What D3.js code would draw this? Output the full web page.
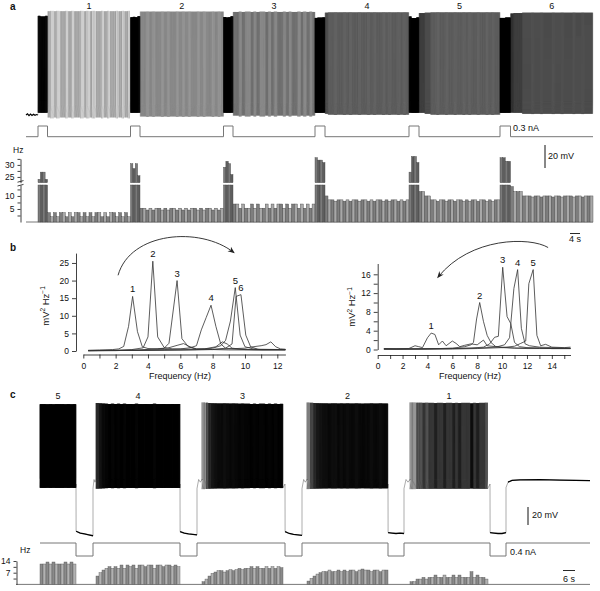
<!DOCTYPE html>
<html><head><meta charset="utf-8">
<script src="https://cdnjs.cloudflare.com/ajax/libs/d3/7.8.5/d3.min.js"></script>
<style>
body{margin:0;background:#fff;}
svg{display:block;font-family:"Liberation Sans",Arial,Helvetica,sans-serif;}
</style></head><body>
<svg id="chart" width="600" height="591"></svg>
<script>
// ======================= DATA =======================
// ---- Panel a : current pulses (s), instantaneous firing frequency bins (Hz)
const aPulses = [[4.8,8.6],[41.8,45.6],[79.0,82.8],[115.6,119.6],[153.2,157.2],[189.6,193.8]];
const aEndTime = 226.8;
const aPulseAmp = 0.3;               // nA
const aLabels = ["1","2","3","4","5","6"];
const aPulseHz = [
  [24,27,27,24],
  [30.5,28.5,30.5,25.5],
  [29,31.5,30.5,26],
  [33,32,32,31],
  [27,33.5,33.5,31],
  [33,33,31.5,31.5]
];
const aBurst1 = [3.6,2.0,3.6,2.0,3.6,3.6,2.0,3.6,2.0,3.6,3.6,2.0,3.6,2.0,3.6,2.0,3.6,3.6,2.0,3.6,2.0,3.6,3.6,2.0,3.6,2.0,3.6,2.0];
const aBurst2 = [5.3,5.3,4.6,5.3,4.6,5.3,5.3,4.6,5.3,4.6,5.3,5.3,4.6,5.3,4.6,5.3,4.6,5.3,5.3,4.6,5.3,4.6,5.3,5.3,4.6,5.3,4.6,5.3];
const aBurst3 = [6.9,6.9,5.3,6.9,5.3,5.3,6.9,5.3,6.9,5.3,5.3,6.9,5.3,6.9,5.3,6.9,6.9,5.3,6.9,5.3,6.9,6.9,5.3,6.9,5.3,6.9,5.3,6.9];
const aBurst4 = [10,8.5,8.5,8.0,8.5,8.5,8.0,8.5,8.0,8.5,8.5,8.0,8.5,8.5,8.0,8.5,8.0,8.5,8.5,8.0,8.5,8.0,8.5,8.5,8.0,8.5,8.0,8.5];
const aBurst5 = [11.7,11.7,10,10,8.5,8.5,8.0,8.5,8.5,8.0,8.5,8.5,8.0,8.5,8.5,8.0,8.5,8.0,8.5,8.5,8.0,8.5,8.5,8.0,8.5,8.0,8.5,8.5];
const aBurst6 = [13.6,11.7,11.7,11.7,10,10,10,9.6,10,10,9.6,10,10,10,9.6,10,10,9.6,10,10,10,9.6,10,10,9.6,10,10,10];
const aBurstHz = [aBurst1,aBurst2,aBurst3,aBurst4,aBurst5,aBurst6];
const aPreTrace = [[0,-60],[0.6,-59],[1.2,-60.6],[1.8,-59.2],[2.4,-60.4],[3.0,-59.4],[3.6,-60.3],[4.2,-59.6],[4.8,-60]];

// ---- Panel b : power spectra [frequency Hz, mV^2 Hz^-1]
const bL1 = [[0.3,0.2],[1.0,0.3],[1.8,0.4],[2.2,0.6],[2.5,1.3],[2.8,7],[3.05,15.5],[3.35,5.5],[3.65,1.2],[4.0,0.7],[4.6,0.6],[5.2,0.8],[5.8,1.6],[6.2,2.1],[6.6,1.2],[7.0,0.6],[8,0.4],[9,0.3],[10,0.3],[11,0.3],[12.5,0.3]];
const bL2 = [[0.3,0.1],[2,0.2],[3,0.4],[3.7,0.9],[4.0,4],[4.3,25.5],[4.6,4],[5.0,1.0],[5.5,0.6],[6.5,0.5],[7.5,0.6],[8.2,1.2],[8.6,2.6],[8.9,2],[9.2,0.8],[10,0.4],[11,0.3],[12.5,0.3]];
const bL3 = [[0.3,0.1],[2,0.1],[3.5,0.3],[4.5,0.6],[5.0,0.8],[5.3,2.2],[5.8,20],[6.1,3.5],[6.5,1.2],[7,0.5],[8,0.5],[9,0.6],[10,0.8],[10.5,1.2],[11.0,1.5],[11.3,1.8],[11.6,2.6],[11.9,1.2],[12.2,0.6],[12.5,0.5]];
const bL4 = [[0.3,0.1],[3,0.2],[5,0.4],[6,0.6],[6.6,0.9],[7.0,1.5],[7.3,6],[7.6,9.5],[7.9,13],[8.2,7],[8.5,2],[8.8,0.8],[9.5,0.5],[10.5,0.4],[12.5,0.4]];
const bL5 = [[0.3,0.1],[4,0.2],[6,0.3],[7,0.4],[8,0.8],[8.5,1.5],[8.8,3],[9.1,8.5],[9.4,18],[9.7,4.5],[10.0,1.2],[10.5,0.6],[11,0.4],[12.5,0.4]];
const bL6 = [[0.3,0.1],[5,0.2],[7,0.3],[8,0.4],[8.8,0.8],[9.2,2],[9.45,15.5],[9.75,16],[10.05,4.5],[10.35,1.2],[10.8,0.5],[12.5,0.4]];
const bLeftSpectra = [bL1,bL2,bL3,bL4,bL5,bL6];
const bLeftLabels = ["1","2","3","4","5","6"];
const bR1 = [[0.5,0.2],[1.5,0.1],[2.5,0.2],[3.0,0.8],[3.3,0.6],[3.6,0.4],[4.0,2.5],[4.3,3.5],[4.6,3.2],[4.9,1],[5.2,1.8],[5.5,0.8],[6.0,1.8],[6.3,1.3],[6.6,0.6],[7.0,0.9],[7.5,1.2],[8.0,1.0],[8.5,2],[8.8,0.8],[9.5,0.6],[10,0.5],[11,0.3],[12,0.3],[13,0.3],[14,0.2],[15.5,0.2]];
const bR2 = [[0.5,0.1],[3,0.1],[5,0.2],[6,0.3],[7,0.6],[7.5,1.0],[7.7,1.5],[7.95,6.5],[8.2,10],[8.5,6],[8.8,3],[9.1,1.5],[9.5,0.6],[10,0.4],[11,0.3],[12,0.2],[13,0.2],[14,0.2],[15.5,0.2]];
const bR3 = [[0.5,0.1],[4,0.1],[6,0.2],[7.5,0.3],[8.5,0.5],[9.0,1.2],[9.4,2.6],[9.7,2.8],[10.05,17.5],[10.4,7],[10.7,5.5],[11.0,1.5],[11.4,0.6],[12,0.4],[13,0.3],[14,0.2],[15.5,0.2]];
const bR4 = [[0.5,0.1],[6,0.2],[8,0.3],[9.5,0.5],[10.2,1],[10.6,2.5],[10.95,13],[11.25,17],[11.55,4.5],[11.85,1.2],[12.2,0.8],[13,0.5],[14,0.4],[15.5,0.3]];
const bR5 = [[0.5,0.1],[6,0.1],[8,0.2],[10,0.4],[11,0.7],[11.5,1.3],[11.9,1.8],[12.15,14],[12.5,17],[12.8,3],[13.1,0.8],[13.5,1.1],[14,0.5],[15,0.4],[15.5,0.5]];
const bRightSpectra = [bR1,bR2,bR3,bR4,bR5];
const bRightLabels = ["1","2","3","4","5"];
const bLeftArrow  = [[2.15,21.5],[2.9,33.8],[7.2,35.5],[9.3,28.0]];   // bezier in data units
const bRightArrow = [[13.7,21.7],[12.25,24.0],[7.45,24.0],[4.85,15.4]];

// ---- Panel c : hyperpolarising steps (s), firing-frequency bins (Hz, 1.5 s)
const cSteps = [[18,26.5],[70,78.5],[122.5,131],[174,182],[225,233]];
const cEndTime = 275;
const cStepAmp = -0.4;               // nA
const cLabels = ["5","4","3","2","1"];
const cBurstStart = [0,28,81,133.5,185];
const cBinW = 1.5;
const cBurst5 = [12.2,12.2,13.4,12.2,13.4,12.2,12.2,12.2,13.4,12.2,13.4,12.2];
const cBurst4 = [5,7,8.6,9.6,10.6,9.6,10.6,9.6,11.6,9.6,11.6,10.6,11.6,9.6,11.6,11.6,10.6,11.6,11.6,9.6,11.6,11.6,10.6,11.6,11.6,10.6,11.6,10.6];
const cBurst3 = [1.6,3.2,5,6.6,7.4,8.2,8.2,7.4,8.2,8.8,8.2,8.8,9.6,8.8,9.6,9.6,10.6,9.6,10.6,9.6,9.6,10.6,9.6,10.6,9.6,10.6,10];
const cBurst2 = [2,3.6,5,6.2,7,7.6,7.6,8.6,7.6,7.6,8.6,7.6,8.6,7.6,8.6,8.6,7.6,8.6,9.2,8.6,8.6,7.6,8.6,8.6,7.6,8.6,8.6];
const cBurst1 = [1.6,1.6,3.2,3.2,4.2,3.2,4.2,4.2,5.6,4.2,4.2,5.6,4.2,4.2,5.6,4.2,5.6,4.2,4.2,4.2,7.6,4.2,5.6,4.2,4.2,3.2];
const cBurstHz = [cBurst5,cBurst4,cBurst3,cBurst2,cBurst1];
const cHyperV = [
  [-112.5,-114.5,-115.5,-116.5,-117.5],
  [-113,-114.5,-115.5,-116,-116.5],
  [-113,-115,-116,-116.5,-117],
  [-114,-114.5,-115,-114.5,-115],
  [-114,-114.5,-115,-115,-114]
];
const cOnsetV = [-65,-55,-58,-55];
const cRestTrace = [[233,-64],[234,-58],[236,-56],[240,-55.4],[250,-55.2],[260,-55.6],[275,-56.2]];

// ======================= SCALES =======================
const svg = d3.select("#chart");
const xA = d3.scaleLinear().domain([0,aEndTime]).range([26,593]);
const yA = d3.scaleLinear().domain([-60,30]).range([115,11.5]);
const iA = d3.scaleLinear().domain([0,aPulseAmp]).range([136.7,126]);
const hLowA = d3.scaleLinear().domain([0,14.2]).range([222,185]);
const hHighA = d3.scaleLinear().domain([22.6,32.5]).range([182.7,158.9]);

const xB1 = d3.scaleLinear().domain([0,12.5]).range([83.3,285.4]);
const yB1 = d3.scaleLinear().domain([0,27.8]).range([351,253.1]);
const xB2 = d3.scaleLinear().domain([0,15.5]).range([377.7,570.5]);
const yB2 = d3.scaleLinear().domain([0,18.3]).range([349.5,263.5]);

const xC = d3.scaleLinear().domain([0,cEndTime]).range([40,590]);
const yC = d3.scaleLinear().domain([-60,30]).range([484,403]);
const iC = d3.scaleLinear().domain([cStepAmp,0]).range([556,543]);
const hC = d3.scaleLinear().domain([0,14]).range([584.4,561]);

const FS = 9;

// ======================= HELPERS =======================
function spikeTrain(start, end, bins, offset){
  const binW = (end-start)/bins.length, out=[];
  let t = start + offset/bins[0];
  while (t < end - 1e-9){
    const i = Math.min(bins.length-1, Math.max(0, Math.floor((t-start)/binW)));
    const f = bins[i];
    out.push({t, f});
    t += 1/f;
  }
  return out;
}
function binList(start, end, bins){
  const w = (end-start)/bins.length;
  return bins.map((f,i)=>({t0:start+i*w, t1:start+(i+1)*w, f, i}));
}
function label(x,y,txt,opt={}){
  return svg.append("text").attr("x",x).attr("y",y)
    .attr("font-size",opt.fs||FS).attr("text-anchor",opt.anchor||"middle")
    .attr("font-weight",opt.bold?"bold":null).attr("fill","#111").text(txt);
}
function styleAxis(g){
  g.attr("font-family",null).attr("font-size",null);
  g.selectAll("path.domain").attr("stroke","#111").attr("stroke-width",0.8);
  g.selectAll(".tick line").attr("stroke","#111").attr("stroke-width",0.8);
  g.selectAll(".tick text").attr("font-size",8.5).attr("fill","#111");
}

// ======================= PANEL a =======================
label(10,10,"a",{bold:true,fs:10,anchor:"start"});
const aSpikePts = [];
const aBins = [], aSegments=[];
aPulses.forEach((p,k)=>{
  aSegments.push({start:p[0], end:p[1], bins:aPulseHz[k], pulse:true, k});
  const bEnd = k < aPulses.length-1 ? aPulses[k+1][0] : aEndTime;
  aSegments.push({start:p[1], end:bEnd, bins:aBurstHz[k], pulse:false, k});
});
aSegments.forEach(s=>{
  spikeTrain(s.start, s.end, s.bins, s.pulse?0.05:0.5).forEach(sp=>{
    const trough = -64 + 0.5*Math.min(sp.f,12);
    const peak = 31 - 0.2*sp.f;
    aSpikePts.push([sp.t, trough+11],[sp.t+0.004, peak],[sp.t+0.012, trough]);
  });
  binList(s.start, s.end, s.bins).forEach(b=>{ b.pulse=s.pulse; aBins.push(b); });
});
const lineA = d3.line().x(d=>xA(d[0])).y(d=>yA(d[1]));
svg.append("path").attr("d", lineA([aPreTrace[aPreTrace.length-1], ...aSpikePts]))
  .attr("fill","none").attr("stroke","#000").attr("stroke-width",0.145).attr("stroke-linejoin","bevel");
svg.append("path").attr("d", lineA(aPreTrace)).attr("fill","none").attr("stroke","#000").attr("stroke-width",1.2);

aLabels.forEach((t,k)=>{
  const s = aPulses[k][1], e = k<aPulses.length-1 ? aPulses[k+1][0] : aEndTime;
  label(xA((s+e)/2), 9, t, {fs:9});
});

// current trace
const aCur = [[0,0]];
aPulses.forEach(p=>{ aCur.push([p[0],0],[p[0],aPulseAmp],[p[1],aPulseAmp],[p[1],0]); });
aCur.push([aEndTime,0]);
svg.append("path").attr("d", d3.line().x(d=>xA(d[0])).y(d=>iA(d[1]))(aCur))
  .attr("fill","none").attr("stroke","#777").attr("stroke-width",1);
label(513,131,"0.3 nA",{anchor:"start",fs:9});

// scale bars
svg.append("line").attr("x1",545).attr("x2",545).attr("y1",145).attr("y2",145+(yA(0)-yA(20)))
  .attr("stroke","#111").attr("stroke-width",1);
label(548,159,"20 mV",{anchor:"start",fs:9});
svg.append("line").attr("x1",570).attr("x2",570+(xA(4)-xA(0))).attr("y1",233.5).attr("y2",233.5)
  .attr("stroke","#111").attr("stroke-width",0.9);
label(575,242,"4 s",{fs:9});

// histogram a
svg.append("line").attr("x1",xA(0)).attr("x2",xA(aEndTime)).attr("y1",hLowA(0)).attr("y2",hLowA(0))
  .attr("stroke","#555").attr("stroke-width",0.8);
const gHA = svg.append("g");
aBins.forEach(b=>{
  const x0 = xA(b.t0), w = xA(b.t1)-xA(b.t0);
  const fill = b.pulse ? (b.i%2? "#5e5e5e":"#7a7a7a") : (b.i%2? "#a8a8a8":"#7e7e7e");
  const parts = b.f <= 14.2 ? [[hLowA(b.f),hLowA(0)]] : [[hLowA(14.2),hLowA(0)],[hHighA(b.f),hHighA(22.6)]];
  parts.forEach(p=>{
    gHA.append("rect").attr("x",x0).attr("width",w).attr("y",p[0]).attr("height",p[1]-p[0])
      .attr("fill",fill).attr("stroke","#444").attr("stroke-width",0.4);
  });
});
const axLowA = svg.append("g").attr("transform","translate(20.5,0)")
  .call(d3.axisLeft(hLowA).tickValues([2.5,5,7.5,10,12.5]).tickFormat(d=>d%5===0?d:"").tickSize(3).tickSizeOuter(0));
styleAxis(axLowA);
const axHighA = svg.append("g").attr("transform","translate(20.5,0)")
  .call(d3.axisLeft(hHighA).tickValues([25,27.5,30,32.5]).tickFormat(d=>d%5===0?d:"").tickSize(3).tickSizeOuter(0));
styleAxis(axHighA);
svg.append("path").attr("d","M17.5,182.2 L23.5,180.6 M17.5,186 L23.5,184.4").attr("stroke","#111").attr("stroke-width",0.8).attr("fill","none");
label(13,153,"Hz",{anchor:"start",fs:8.5});

// ======================= PANEL b =======================
label(10,251,"b",{bold:true,fs:10,anchor:"start"});
function spectraPanel(xS, yS, spectra, labels, yTicks, yMinor, xMax, yAxisX, xAxisY, titleX, arrow){
  const line = d3.line().x(d=>xS(d[0])).y(d=>yS(d[1]));
  spectra.forEach((s,k)=>{
    svg.append("path").attr("d",line(s)).attr("fill","none").attr("stroke","#333")
      .attr("stroke-width",0.8).attr("stroke-linejoin","round");
    const pk = s.reduce((a,b)=> b[1]>a[1]?b:a);
    label(xS(pk[0]), yS(pk[1])-4, labels[k], {fs:9.5});
  });
  const ay = svg.append("g").attr("transform",`translate(${yAxisX},0)`)
    .call(d3.axisLeft(yS).tickValues(yMinor).tickFormat(d=> yTicks.includes(d)? d:"").tickSize(4).tickSizeOuter(0));
  styleAxis(ay);
  const xt = d3.range(0, Math.floor(xMax)+1, 1);
  const ax = svg.append("g").attr("transform",`translate(0,${xAxisY})`)
    .call(d3.axisBottom(xS).tickValues(xt).tickFormat(d=> d%2===0? d:"").tickSize(4).tickSizeOuter(0));
  styleAxis(ax);
  ax.selectAll(".tick text").attr("dy","0.85em");
  label(titleX, 379, "Frequency (Hz)", {fs:9});
  const p = d3.path();
  const P = arrow.map(d=>[xS(d[0]),yS(d[1])]);
  p.moveTo(...P[0]); p.bezierCurveTo(...P[1],...P[2],...P[3]);
  svg.append("path").attr("d",p.toString()).attr("fill","none").attr("stroke","#222")
    .attr("stroke-width",0.9).attr("marker-end","url(#ah)");
}
svg.append("defs").append("marker").attr("id","ah").attr("viewBox","0 0 10 10").attr("refX",8).attr("refY",5)
  .attr("markerWidth",7).attr("markerHeight",7).attr("orient","auto-start-reverse").attr("markerUnits","userSpaceOnUse")
  .append("path").attr("d","M0,1 L10,5 L0,9 L3,5 Z").attr("fill","#222");

spectraPanel(xB1,yB1,bLeftSpectra,bLeftLabels,[0,5,10,15,20,25],[0,5,10,15,20,25],12.5,76,354.5,180,bLeftArrow);
spectraPanel(xB2,yB2,bRightSpectra,bRightLabels,[0,4,8,12,16],[0,2,4,6,8,10,12,14,16],15.5,377.7,355,470,bRightArrow);

function yTitle(x,y){
  const t = svg.append("text").attr("transform",`translate(${x},${y}) rotate(-90)`)
    .attr("text-anchor","middle").attr("font-size",9.5).attr("fill","#111");
  t.append("tspan").text("mV");
  t.append("tspan").attr("font-size",6.5).attr("dy",-3.5).text("2");
  t.append("tspan").attr("dy",3.5).text(" Hz");
  t.append("tspan").attr("font-size",6.5).attr("dy",-3.5).text("\u22121");
}
yTitle(48.5,306);
yTitle(355,307);

// ======================= PANEL c =======================
label(10,398,"c",{bold:true,fs:10,anchor:"start"});
const cPts = [], cThick = [], cBins = [];
cBurstHz.forEach((bins,k)=>{
  const st = cBurstStart[k], en = st + bins.length*cBinW;
  if (k>0){
    const se = cSteps[k-1][1];
    cOnsetV.forEach((v,j)=> cPts.push([se + (st-se)*j/(cOnsetV.length-1), v]));
  }
  spikeTrain(st, en, bins, 0.05).forEach(sp=>{
    const trough = -66 + 0.15*sp.f, peak = 31 - 0.2*sp.f;
    cPts.push([sp.t, trough+10],[sp.t+0.004, peak],[sp.t+0.012, trough]);
  });
  binList(st, en, bins).forEach(b=>cBins.push(b));
  const step = cSteps[k];
  const hv = cHyperV[k];
  const seg = hv.map((v,j)=>[step[0] + (step[1]-step[0])*j/(hv.length-1) + (j===0?0.05:0), v]);
  cPts.push([step[0], -60], ...seg);
  cThick.push(seg);
});
cPts.push(...cRestTrace);
cThick.push(cRestTrace.slice(1));
const lineC = d3.line().x(d=>xC(d[0])).y(d=>yC(d[1]));
svg.append("path").attr("d",lineC(cPts)).attr("fill","none").attr("stroke","#000")
  .attr("stroke-width",0.33).attr("stroke-linejoin","bevel");
cThick.forEach(s=> svg.append("path").attr("d",lineC(s)).attr("fill","none").attr("stroke","#000").attr("stroke-width",1.3));

cLabels.forEach((t,k)=>{
  const st = cBurstStart[k], en = st + cBurstHz[k].length*cBinW;
  label(xC((st+en)/2), 399, t, {fs:9});
});

// current trace c
const cCur = [[0,0]];
cSteps.forEach(s=>{ cCur.push([s[0],0],[s[0],cStepAmp],[s[1],cStepAmp],[s[1],0]); });
cCur.push([cEndTime,0]);
svg.append("path").attr("d", d3.line().x(d=>xC(d[0])).y(d=>iC(d[1]))(cCur))
  .attr("fill","none").attr("stroke","#777").attr("stroke-width",1);
label(510,555,"0.4 nA",{anchor:"start",fs:9});

svg.append("line").attr("x1",528).attr("x2",528).attr("y1",507).attr("y2",507+(yC(0)-yC(20)))
  .attr("stroke","#111").attr("stroke-width",1);
label(532,518,"20 mV",{anchor:"start",fs:9});
svg.append("line").attr("x1",563).attr("x2",563+(xC(6)-xC(0))).attr("y1",570.5).attr("y2",570.5)
  .attr("stroke","#111").attr("stroke-width",0.9);
label(569,582,"6 s",{fs:9});

// histogram c
svg.append("line").attr("x1",16).attr("x2",xC(cEndTime)).attr("y1",hC(0)).attr("y2",hC(0))
  .attr("stroke","#555").attr("stroke-width",0.8);
cBins.forEach(b=>{
  const x0 = xC(b.t0), w = xC(b.t1)-xC(b.t0);
  svg.append("rect").attr("x",x0).attr("width",w).attr("y",hC(b.f)).attr("height",hC(0)-hC(b.f))
    .attr("fill", b.i%2? "#b2b2b2":"#8a8a8a").attr("stroke","#555").attr("stroke-width",0.4);
});
const axC = svg.append("g").attr("transform","translate(16.5,0)")
  .call(d3.axisLeft(hC).tickValues([3.5,7,10.5,14]).tickFormat(d=> d%7===0? d:"").tickSize(3).tickSizeOuter(0));
styleAxis(axC);
label(20,553,"Hz",{anchor:"start",fs:8.5});
</script>
</body></html>
